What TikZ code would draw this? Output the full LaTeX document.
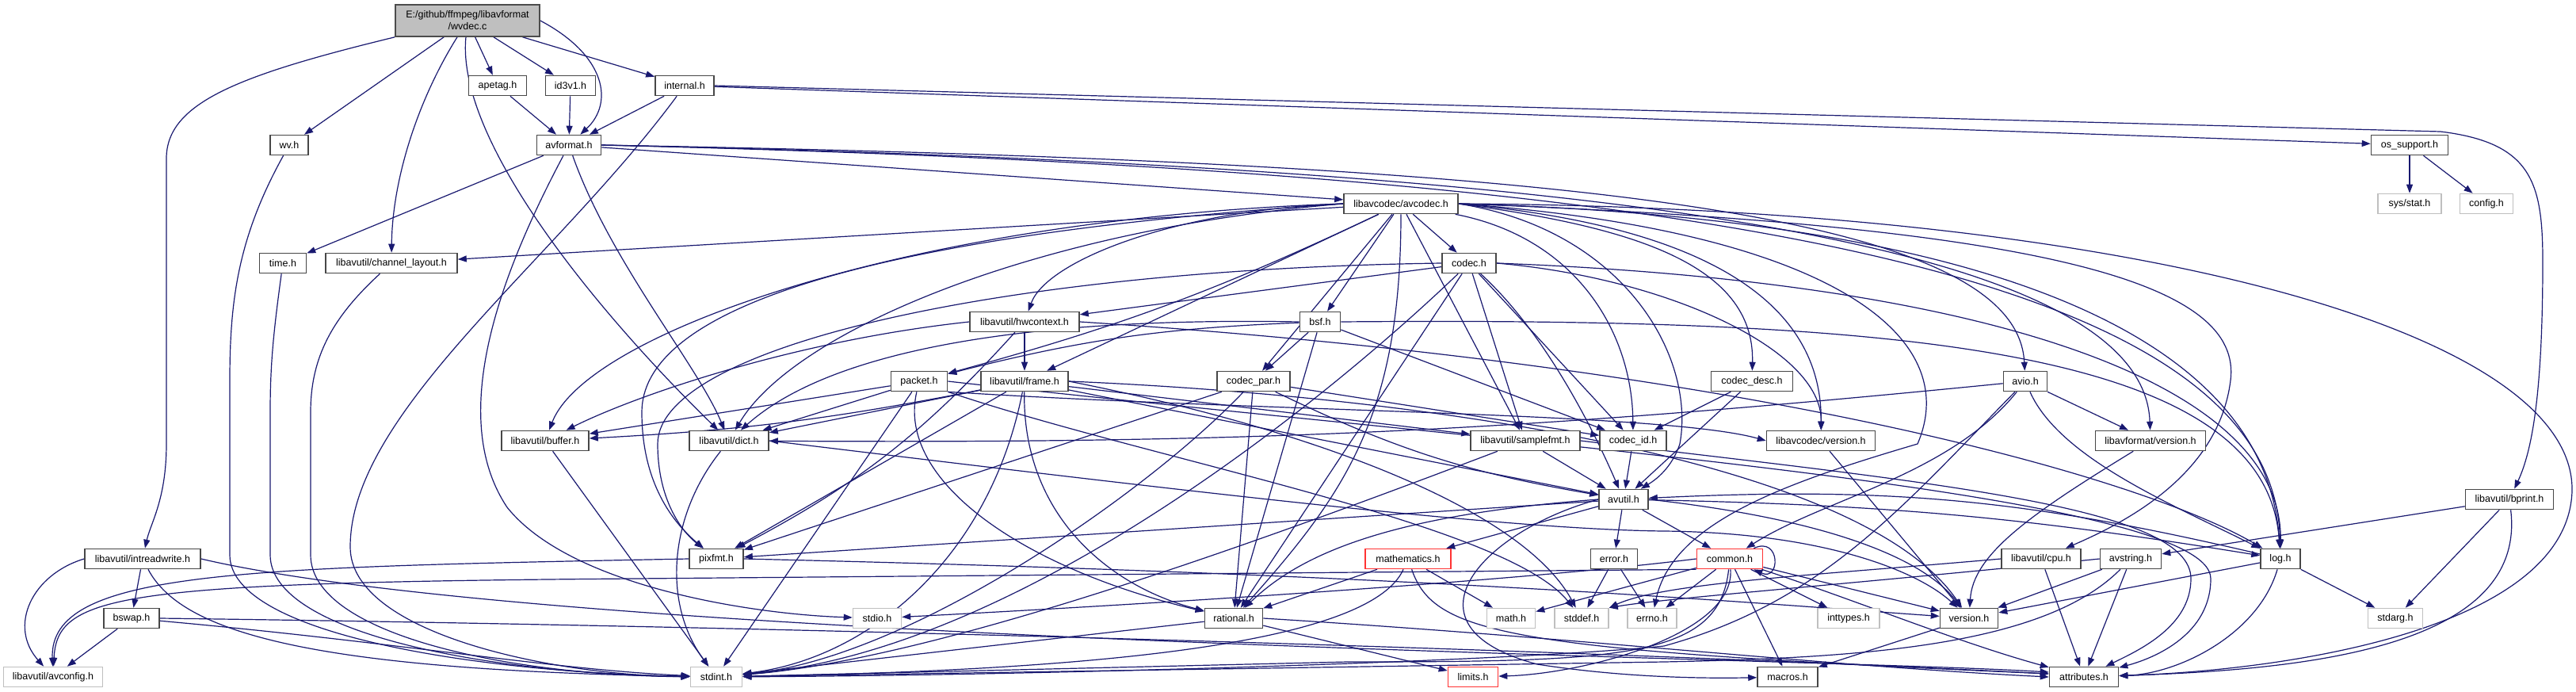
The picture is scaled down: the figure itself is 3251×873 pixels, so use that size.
\documentclass[tikz,border=0pt]{standalone}
\usepackage{fontspec}
\setmainfont{Liberation Sans}
\usetikzlibrary{arrows.meta}
\definecolor{edgec}{HTML}{191970}
\definecolor{sysgray}{HTML}{BFBFBF}
\definecolor{rootfill}{HTML}{BFBFBF}
\definecolor{truncred}{HTML}{FF3333}
\pgfdeclarelayer{bg}
\pgfsetlayers{bg,main}
\tikzset{
  hbox/.style={draw=black!72, fill=white, line width=0.8pt, minimum height=12.5pt, inner sep=0.5pt, font=\fontsize{6.25pt}{7.5pt}\selectfont},
  sysbox/.style={hbox, draw=sysgray},
  redbox/.style={hbox, draw=truncred},
  rootbox/.style={hbox, fill=rootfill, draw=black!70, align=center, minimum height=20pt},
  dep/.style={draw=edgec, line width=0.6pt, -{Triangle[length=5.5pt,width=4pt]}},
}
\begin{document}
\begin{tikzpicture}[x=0.5pt,y=-0.5pt]
\begin{pgfonlayer}{bg}
\fill[white] (0,0) rectangle (3251,873);
\end{pgfonlayer}
\useasboundingbox (0,0) rectangle (3251,873);

\node[rootbox, minimum width=91pt] (wvdec) at (590,26) {E:/github/ffmpeg/libavformat\\/wvdec.c};
\node[hbox, minimum width=36.5pt] (apetag) at (628,108) {apetag.h};
\node[hbox, minimum width=31.5pt] (id3v1) at (720,108) {id3v1.h};
\node[hbox, minimum width=37pt] (internal) at (864,108) {internal.h};
\node[hbox, minimum width=24pt] (wv) at (365,183) {wv.h};
\node[hbox, minimum width=40.5pt] (avformat) at (718,183) {avformat.h};
\node[hbox, minimum width=48.5pt] (ossupport) at (3041,183) {os\_support.h};
\node[hbox, minimum width=72pt] (avcodec) at (1768,257) {libavcodec/avcodec.h};
\node[sysbox, minimum width=40pt] (sysstat) at (3041,257) {sys/stat.h};
\node[sysbox, minimum width=33.5pt] (config) at (3138,257) {config.h};
\node[hbox, minimum width=29.5pt] (timeh) at (357,332) {time.h};
\node[hbox, minimum width=83pt] (chlayout) at (494,332) {libavutil/channel\_layout.h};
\node[hbox, minimum width=34pt] (codec) at (1854,332) {codec.h};
\node[hbox, minimum width=69pt] (hwcontext) at (1293,406) {libavutil/hwcontext.h};
\node[hbox, minimum width=25.5pt] (bsf) at (1666,406) {bsf.h};
\node[hbox, minimum width=35.5pt] (packet) at (1160,481) {packet.h};
\node[hbox, minimum width=55pt] (frame) at (1293,481) {libavutil/frame.h};
\node[hbox, minimum width=46pt] (codecpar) at (1582,481) {codec\_par.h};
\node[hbox, minimum width=51.5pt] (codecdesc) at (2211,481) {codec\_desc.h};
\node[hbox, minimum width=27.5pt] (avio) at (2556,481) {avio.h};
\node[hbox, minimum width=55pt] (buffer) at (688,556) {libavutil/buffer.h};
\node[hbox, minimum width=50pt] (dict) at (920,556) {libavutil/dict.h};
\node[hbox, minimum width=69pt] (samplefmt) at (1925,556) {libavutil/samplefmt.h};
\node[hbox, minimum width=42pt] (codecid) at (2061,556) {codec\_id.h};
\node[hbox, minimum width=68.5pt] (lavcversion) at (2298,556) {libavcodec/version.h};
\node[hbox, minimum width=69.5pt] (lavfversion) at (2714,556) {libavformat/version.h};
\node[hbox, minimum width=31pt] (avutil) at (2049,630) {avutil.h};
\node[hbox, minimum width=55.5pt] (bprint) at (3167,630) {libavutil/bprint.h};
\node[hbox, minimum width=73pt] (intreadwrite) at (180,705) {libavutil/intreadwrite.h};
\node[hbox, minimum width=34pt] (pixfmt) at (904,705) {pixfmt.h};
\node[redbox, minimum width=54pt] (mathematics) at (1777,705) {mathematics.h};
\node[hbox, minimum width=29.5pt] (error) at (2037,705) {error.h};
\node[redbox, minimum width=41.5pt] (common) at (2183,705) {common.h};
\node[hbox, minimum width=50pt] (cpu) at (2576,705) {libavutil/cpu.h};
\node[hbox, minimum width=38.5pt] (avstring) at (2689,705) {avstring.h};
\node[hbox, minimum width=25pt] (log) at (2878,705) {log.h};
\node[hbox, minimum width=35pt] (bswap) at (166,780) {bswap.h};
\node[sysbox, minimum width=30.5pt] (stdio) at (1107,780) {stdio.h};
\node[hbox, minimum width=36.5pt] (rational) at (1557,780) {rational.h};
\node[sysbox, minimum width=30.5pt] (math) at (1907,780) {math.h};
\node[sysbox, minimum width=34pt] (stddef) at (1996,780) {stddef.h};
\node[sysbox, minimum width=31pt] (errno) at (2085,780) {errno.h};
\node[sysbox, minimum width=39pt] (inttypes) at (2333,780) {inttypes.h};
\node[hbox, minimum width=36.5pt] (version) at (2485,780) {version.h};
\node[sysbox, minimum width=34.5pt] (stdarg) at (3023,780) {stdarg.h};
\node[sysbox, minimum width=62.5pt] (avconfig) at (67,854) {libavutil/avconfig.h};
\node[sysbox, minimum width=32.5pt] (stdint) at (904,854) {stdint.h};
\node[redbox, minimum width=31.5pt] (limits) at (1859,854) {limits.h};
\node[hbox, minimum width=38pt] (macros) at (2256,854) {macros.h};
\node[hbox, minimum width=43.5pt] (attributes) at (2630,854) {attributes.h};

\begin{pgfonlayer}{bg}
% wvdec.c
\draw[dep] (wvdec.south west) .. controls (300,95) and (210,130) .. (210,200) -- (210,560) .. controls (210,630) and (190,660) .. (intreadwrite);
\draw[dep] (wvdec) -- (wv);
\draw[dep] (wvdec) .. controls (525,130) and (495,230) .. (chlayout);
\draw[dep] (wvdec) .. controls (575,180) and (760,400) .. (dict);
\draw[dep] (wvdec) -- (apetag);
\draw[dep] (wvdec) -- (id3v1);
\draw[dep] (wvdec) -- (internal);
\draw[dep] (wvdec.east) .. controls (765,70) and (775,130) .. (avformat);
\draw[dep] (apetag) -- (avformat);
\draw[dep] (id3v1) -- (avformat);
% internal.h
\draw[dep] (internal) -- (avformat);
\draw[dep] (internal) .. controls (700,330) and (442,520) .. (442,690) .. controls (442,800) and (700,852) .. (stdint);
\draw[dep] (internal) -- (ossupport);
\draw[dep] (internal.east) -- (3080,166) .. controls (3195,180) and (3209,230) .. (3209,330) .. controls (3209,500) and (3195,570) .. (bprint);
\draw[dep] (ossupport) -- (sysstat);
\draw[dep] (ossupport) -- (config);
% avformat.h
\draw[dep] (avformat) -- (timeh);
\draw[dep] (avformat) .. controls (640,330) and (560,520) .. (640,640) .. controls (720,740) and (950,775) .. (stdio);
\draw[dep] (avformat) .. controls (770,330) and (880,460) .. (dict);
\draw[dep] (avformat) -- (avcodec);
\draw[dep] (avformat.east) .. controls (2000,205) and (2545,270) .. (avio);
\draw[dep] (avformat.east) .. controls (2000,210) and (2705,300) .. (lavfversion);
\draw[dep] (avformat.east) .. controls (2100,215) and (2870,330) .. (log);
% small headers to stdint
\draw[dep] (wv) .. controls (300,300) and (290,380) .. (290,480) -- (290,700) .. controls (290,800) and (600,848) .. (stdint);
\draw[dep] (timeh) .. controls (345,420) and (341,460) .. (341,520) -- (341,700) .. controls (341,800) and (620,850) .. (stdint);
\draw[dep] (chlayout) .. controls (420,400) and (392,450) .. (392,520) -- (392,700) .. controls (392,800) and (640,852) .. (stdint);
% avcodec.h
\draw[dep] (avcodec.east) .. controls (2300,290) and (2480,420) .. (2420,560) .. controls (2250,610) and (2110,660) .. (errno);
\draw[dep] (avcodec) -- (samplefmt);
\draw[dep] (avcodec.east) .. controls (2700,262) and (3251,420) .. (3246,620) .. controls (3240,790) and (2900,845) .. (attributes);
\draw[dep] (avcodec.east) .. controls (2050,290) and (2140,450) .. (2120,560) .. controls (2110,590) and (2090,605) .. (avutil);
\draw[dep] (avcodec.west) .. controls (1150,275) and (740,420) .. (buffer);
\draw[dep] (avcodec.east) .. controls (2600,285) and (2830,360) .. (2815,480) .. controls (2800,600) and (2680,660) .. (cpu);
\draw[dep] (avcodec) -- (chlayout);
\draw[dep] (avcodec.west) .. controls (1300,290) and (1000,420) .. (dict);
\draw[dep] (avcodec) -- (frame);
\draw[dep] (avcodec.west) .. controls (1480,265) and (1320,330) .. (hwcontext);
\draw[dep] (avcodec.east) .. controls (2500,275) and (2860,420) .. (log);
\draw[dep] (avcodec.west) .. controls (1050,300) and (810,400) .. (810,520) .. controls (810,610) and (850,660) .. (pixfmt);
\draw[dep] (avcodec) .. controls (1768,520) and (1700,620) .. (rational);
\draw[dep] (avcodec) -- (bsf);
\draw[dep] (avcodec) -- (codec);
\draw[dep] (avcodec.east) .. controls (2050,285) and (2215,330) .. (codecdesc);
\draw[dep] (avcodec) -- (codecpar);
\draw[dep] (avcodec) .. controls (1990,300) and (2060,420) .. (codecid);
\draw[dep] (avcodec) to[bend left=5] (packet);
\draw[dep] (avcodec.east) .. controls (2150,285) and (2300,380) .. (lavcversion);
% codec.h
\draw[dep] (codec) .. controls (1700,480) and (1300,820) .. (stdint);
\draw[dep] (codec) .. controls (1950,420) and (2010,540) .. (avutil);
\draw[dep] (codec) -- (hwcontext);
\draw[dep] (codec.east) .. controls (2500,355) and (2880,480) .. (log);
\draw[dep] (codec.west) .. controls (1250,340) and (830,440) .. (830,560) .. controls (830,630) and (860,670) .. (pixfmt);
\draw[dep] (codec) -- (rational);
\draw[dep] (codec) -- (samplefmt);
\draw[dep] (codec) -- (codecid);
\draw[dep] (codec.east) .. controls (2100,350) and (2300,440) .. (lavcversion);
% hwcontext.h
\draw[dep] (hwcontext.west) .. controls (1000,430) and (800,500) .. (buffer);
\draw[dep] (hwcontext) -- (frame);
\draw[dep] (hwcontext.east) .. controls (2200,460) and (2700,600) .. (log);
\draw[dep] (hwcontext) to[bend left=10] (pixfmt);
% bsf.h
\draw[dep] (bsf.west) .. controls (1300,400) and (1050,440) .. (dict);
\draw[dep] (bsf.east) .. controls (2400,400) and (2860,440) .. (log);
\draw[dep] (bsf) -- (rational);
\draw[dep] (bsf) -- (codecid);
\draw[dep] (bsf) -- (codecpar);
\draw[dep] (bsf) to[bend right=6] (packet);
% packet.h
\draw[dep] (packet.south east) .. controls (1450,580) and (1900,660) .. (stddef);
\draw[dep] (packet) -- (stdint);
\draw[dep] (packet.east) .. controls (1900,560) and (2790,620) .. (2790,730) .. controls (2790,800) and (2720,830) .. (attributes);
\draw[dep] (packet) -- (buffer);
\draw[dep] (packet) -- (dict);
\draw[dep] (packet) .. controls (1130,610) and (1300,720) .. (rational);
\draw[dep] (packet.south east) .. controls (1600,520) and (2100,520) .. (lavcversion.west);
% frame.h
\draw[dep] (frame.east) .. controls (1650,540) and (1920,640) .. (stddef);
\draw[dep] (frame) .. controls (1250,700) and (1100,830) .. (stdint);
\draw[dep] (frame) -- (avutil);
\draw[dep] (frame) to[bend left=4] (buffer);
\draw[dep] (frame) -- (dict);
\draw[dep] (frame) .. controls (1290,650) and (1400,740) .. (rational);
\draw[dep] (frame) -- (samplefmt);
\draw[dep] (frame) -- (pixfmt);
\draw[dep] (frame.east) .. controls (1800,500) and (2350,580) .. (version);
% codec_par.h
\draw[dep] (codecpar) .. controls (1450,620) and (1150,830) .. (stdint);
\draw[dep] (codecpar) to[bend right=8] (avutil);
\draw[dep] (codecpar) -- (rational);
\draw[dep] (codecpar) -- (pixfmt);
\draw[dep] (codecpar) -- (codecid);
% codec_desc.h, codec_id.h
\draw[dep] (codecdesc) -- (avutil);
\draw[dep] (codecdesc) -- (codecid);
\draw[dep] (codecid) -- (avutil);
% samplefmt.h
\draw[dep] (samplefmt) .. controls (1650,660) and (1200,830) .. (stdint);
\draw[dep] (samplefmt) -- (avutil);
\draw[dep] (samplefmt.east) .. controls (2450,610) and (2765,640) .. (2765,730) .. controls (2765,790) and (2700,820) .. (attributes);
% version headers
\draw[dep] (lavcversion) -- (version);
\draw[dep] (lavfversion) .. controls (2560,650) and (2490,700) .. (version);
% avio.h
\draw[dep] (avio) to[bend left=3] (dict);
\draw[dep] (avio) .. controls (2460,600) and (2300,630) .. (common);
\draw[dep] (avio) .. controls (2600,580) and (2750,640) .. (log);
\draw[dep] (avio) -- (lavfversion);
\draw[dep] (avio) .. controls (2400,640) and (2300,760) .. (2100,815) .. controls (1900,835) and (1300,852) .. (stdint);
% avutil.h
\draw[dep] (avutil) -- (common);
\draw[dep] (avutil) -- (error);
\draw[dep] (avutil.west) .. controls (1750,650) and (1640,700) .. (rational);
\draw[dep] (avutil.east) .. controls (2350,660) and (2440,720) .. (version);
\draw[dep] (avutil.west) .. controls (1870,670) and (1760,790) .. (1940,838) .. controls (2050,855) and (2150,856) .. (macros);
\draw[dep] (avutil) -- (mathematics);
\draw[dep] (avutil) to[bend left=4] (log);
\draw[dep] (avutil) -- (pixfmt);
% log.h
\draw[dep] (log) -- (stdarg);
\draw[dep] (log) .. controls (2850,800) and (2750,850) .. (attributes);
\draw[dep] (log) -- (version);
\draw[dep] (log) to[bend right=8] (avutil);
% common.h
\draw[dep] (common) -- (errno);
\draw[dep] (common) -- (inttypes);
\draw[dep] (common) .. controls (2190,800) and (2000,850) .. (limits);
\draw[dep] (common) -- (math);
\draw[dep] (common) .. controls (2170,830) and (2050,835) .. (1700,835) -- (stdint);
\draw[dep] (common.west) .. controls (1900,735) and (1400,765) .. (stdio);
\draw[dep] (common) .. controls (2350,760) and (2470,810) .. (attributes);
\draw[dep] (common) -- (macros);
\draw[dep] (common) -- (version);
\draw[dep] (common.south west) -- (800,730) .. controls (150,735) and (72,750) .. (avconfig);
\draw[dep] ([xshift=-6pt]common.north east) .. controls +(34,-16) and +(34,16) .. ([xshift=-6pt]common.south east);
% error.h
\draw[dep] (error) -- (errno);
\draw[dep] (error) -- (stddef);
% mathematics.h
\draw[dep] (mathematics) .. controls (1730,810) and (1400,845) .. (stdint);
\draw[dep] (mathematics) -- (math);
\draw[dep] (mathematics) .. controls (1810,800) and (1900,820) .. ([yshift=2pt]attributes.west);
\draw[dep] (mathematics) -- (rational);
% rational.h
\draw[dep] (rational) -- (stdint);
\draw[dep] (rational) -- (limits);
\draw[dep] (rational.east) .. controls (2000,805) and (2300,840) .. (attributes.west);
% dict.h, buffer.h, pixfmt.h
\draw[dep] (dict) .. controls (845,650) and (835,760) .. (stdint);
\draw[dep] (dict.east) .. controls (1500,620) and (1900,668) .. (2100,670) .. controls (2300,672) and (2420,720) .. (version);
\draw[dep] (buffer) -- (stdint);
\draw[dep] (pixfmt.west) .. controls (300,716) and (62,720) .. (avconfig);
\draw[dep] (pixfmt.east) .. controls (1800,725) and (2200,760) .. (version);
% version.h, cpu.h, avstring.h, bprint.h
\draw[dep] (version) -- (macros);
\draw[dep] (cpu) -- (attributes);
\draw[dep] (cpu.west) .. controls (2300,725) and (2100,735) .. (stddef.north east);
\draw[dep] (avstring.west) .. controls (2300,740) and (2100,755) .. (stddef.north east);
\draw[dep] (avstring) -- (version);
\draw[dep] (avstring) -- (attributes);
\draw[dep] (avstring) .. controls (2580,815) and (2350,830) .. (2100,835) -- (stdint);
\draw[dep] (bprint) -- (avstring);
\draw[dep] (bprint) -- (stdarg);
\draw[dep] (bprint) .. controls (3190,820) and (2900,845) .. (attributes);
% intreadwrite.h, bswap.h
\draw[dep] (intreadwrite.west) .. controls (40,725) and (10,790) .. (avconfig);
\draw[dep] (intreadwrite) -- (bswap);
\draw[dep] (intreadwrite) .. controls (230,800) and (400,845) .. (stdint);
\draw[dep] (intreadwrite.east) .. controls (700,810) and (2300,830) .. ([yshift=3pt]attributes.west);
\draw[dep] (bswap) -- (avconfig);
\draw[dep] (bswap) .. controls (500,810) and (700,845) .. (stdint);
\draw[dep] (bswap.east) .. controls (1000,790) and (2000,820) .. ([yshift=2pt]attributes.west);
\end{pgfonlayer}
\end{tikzpicture}
\end{document}
